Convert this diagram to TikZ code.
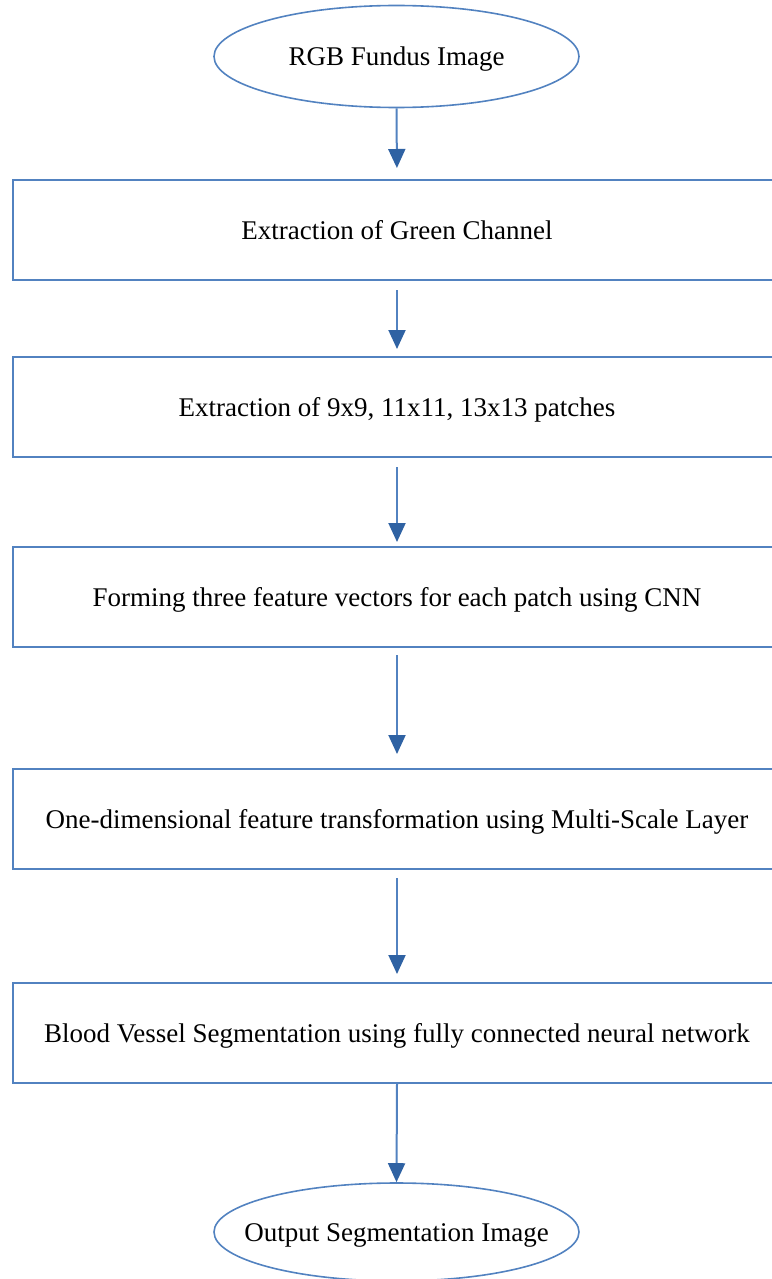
\documentclass[tikz,border=0pt]{standalone}
\usepackage{fontspec}
\setmainfont{Liberation Serif}
\usetikzlibrary{shapes.geometric,arrows.meta}
\definecolor{edge}{HTML}{5282C0}
\definecolor{tipfill}{HTML}{2F62A3}
\tikzset{
  label text/.style={font=\fontsize{27}{32}\selectfont, text height=18.5pt, text depth=0pt},
  stepbox/.style={draw=edge, line width=2pt, rectangle, minimum width=768pt,
    minimum height=100pt, inner sep=0pt, label text},
  terminal/.style={draw=edge, line width=1.6pt, ellipse, minimum width=365pt,
    minimum height=102pt, inner xsep=-70pt, inner ysep=0pt, label text},
  flow/.style={draw=edge, line width=2pt,
    -{Triangle[width=17pt,length=19pt,fill=tipfill,color=tipfill]}}
}
\begin{document}
\begin{tikzpicture}[x=1pt,y=-1pt]
  \useasboundingbox (0,0) rectangle (771,1279);
  \node[terminal] (rgb) at (396.5,56.5) {RGB Fundus Image};
  \node[stepbox] (green) at (397,230) {Extraction of Green Channel};
  \node[stepbox] (patch) at (397,407) {Extraction of 9x9, 11x11, 13x13 patches};
  \node[stepbox] (feat) at (397,597) {Forming three feature vectors for each patch using CNN};
  \node[stepbox] (ms) at (397,819) {One-dimensional feature transformation using Multi-Scale Layer};
  \node[stepbox] (seg) at (397,1033) {Blood Vessel Segmentation using fully connected neural network};
  \node[terminal, minimum height=98pt] (out) at (396.5,1232) {Output Segmentation Image};

  \draw[flow, shorten >=11pt] (rgb.south) -- (green.north);
  \draw[flow, shorten <=9pt, shorten >=7pt] (green.south) -- (patch.north);
  \draw[flow, shorten <=9pt, shorten >=4pt] (patch.south) -- (feat.north);
  \draw[flow, shorten <=7pt, shorten >=14pt] (feat.south) -- (ms.north);
  \draw[flow, shorten <=8pt, shorten >=8pt] (ms.south) -- (seg.north);
  \draw[flow] (seg.south) -- (out.north);
\end{tikzpicture}
\end{document}
